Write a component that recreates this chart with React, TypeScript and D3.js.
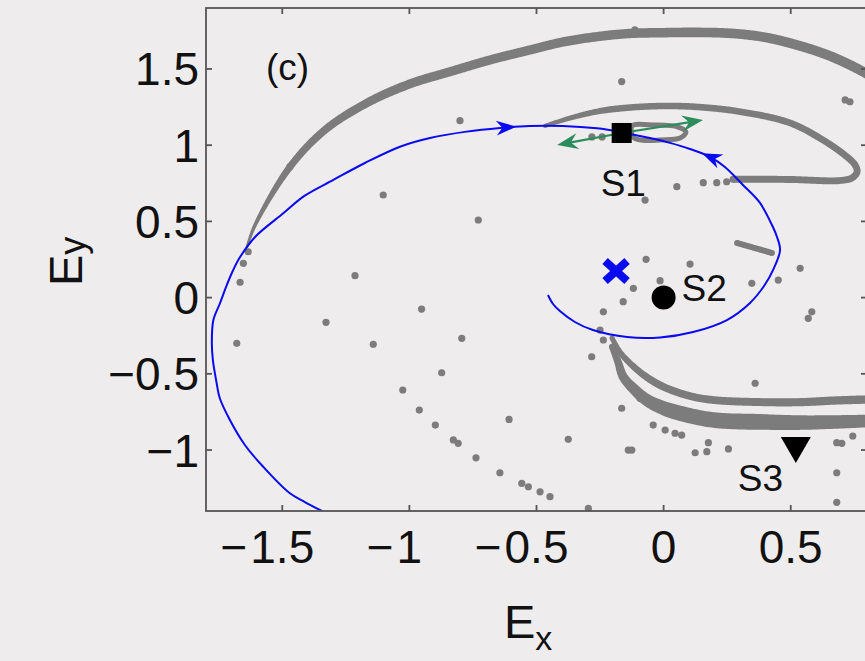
import React, { useEffect, useRef } from 'react';
import * as d3 from 'd3';

type P = [number, number];

const WIDTH = 865;
const HEIGHT = 661;
const BOX = { left: 206, top: 8, right: 867, bottom: 511 };
const FONT = '"Liberation Sans", Arial, Helvetica, sans-serif';
const BG = '#efeced';
const GRAY = '#7c7c7c';
const BLUE = '#0a0aee';
const GREEN = '#2b8c5c';

const xDomain: P = [-1.8, 0.8];
const yDomain: P = [-1.4, 1.9];
const xTickValues = [-1.5, -1, -0.5, 0, 0.5];
const xTickLabels = ['−1.5', '−1', '−0.5', '0', '0.5'];
const yTickValues = [-1, -0.5, 0, 0.5, 1, 1.5];
const yTickLabels = ['−1', '−0.5', '0', '0.5', '1', '1.5'];

// Unstable manifold of S1, outer branch
const outerBranch: P[] = [
  [-1.639, 0.332], [-1.607, 0.476], [-1.47, 0.857], [-1.332, 1.1], [-1.167, 1.277],
  [-0.998, 1.402], [-0.84, 1.482], [-0.683, 1.559], [-0.525, 1.625], [-0.396, 1.677],
  [-0.262, 1.712], [-0.132, 1.733], [-0.002, 1.738], [0.131, 1.74], [0.261, 1.734],
  [0.391, 1.71], [0.525, 1.657], [0.655, 1.585], [0.785, 1.482], [0.891, 1.375],
];

// Unstable manifold of S1, inner fold
const innerBranch: P[] = [
  [-0.467, 1.126], [-0.368, 1.178], [-0.25, 1.224], [-0.132, 1.247], [-0.002, 1.257],
  [0.131, 1.251], [0.301, 1.22], [0.497, 1.146], [0.627, 1.034], [0.72, 0.925],
  [0.753, 0.87], [0.761, 0.824], [0.741, 0.785], [0.694, 0.768], [0.497, 0.775],
  [0.301, 0.777], [0.273, 0.777],
];

// Small closed orbit around S1
const saddleLoop: P[] = [
  [-0.124, 1.126], [-0.034, 1.132], [0.057, 1.119], [0.088, 1.086],
  [0.065, 1.047], [-0.014, 1.034], [-0.073, 1.031], [-0.118, 1.05],
];

// Lower branches leaving the region below S2
const lowerBranchA: P[] = [
  [-0.203, -0.265], [-0.172, -0.357], [-0.132, -0.431], [-0.073, -0.514], [-0.001, -0.585],
  [0.104, -0.646], [0.196, -0.672], [0.392, -0.686], [0.538, -0.686], [0.675, -0.675],
  [0.793, -0.669], [0.891, -0.665],
];
const lowerBranchB: P[] = [
  [-0.203, -0.322], [-0.179, -0.423], [-0.159, -0.519], [-0.113, -0.606], [-0.066, -0.672],
  [-0.002, -0.724], [0.065, -0.759], [0.196, -0.803], [0.392, -0.816], [0.538, -0.82],
  [0.675, -0.816], [0.793, -0.81], [0.891, -0.803],
];

// Short dense run of iterates right of S2
const shortRun: P[] = [[0.289, 0.358], [0.359, 0.325], [0.426, 0.293]];

// Isolated iterates
const scatterPoints: P[] = [
  [-0.801, 1.161], [-1.103, 0.673], [-0.729, 0.509], [-0.165, 1.417], [-0.113, 1.756],
  [0.733, 1.285], [0.714, 1.297], [-1.47, 0.859], [0.248, 0.76], [0.209, 0.754],
  [0.156, 0.754], [0.052, 0.728], [-0.073, 0.64], [-1.634, 0.301], [-1.653, 0.225],
  [-1.666, 0.1], [-1.679, -0.3], [-1.214, 0.144], [-0.952, -0.075], [-1.328, -0.162],
  [-1.142, -0.306], [-0.794, -0.267], [-0.873, -0.493], [-1.026, -0.606], [-0.961, -0.738],
  [-0.898, -0.836], [-0.827, -0.934], [-0.808, -0.956], [-0.738, -1.051], [-0.644, -1.149],
  [-0.558, -1.219], [-0.532, -1.241], [-0.608, -0.799], [-0.486, -1.274], [-0.447, -1.306],
  [-0.069, 0.251], [0.104, 0.22], [-0.014, 0.111], [-0.119, 0.061], [-0.159, -0.027],
  [-0.237, -0.093], [-0.25, -0.213], [-0.237, -0.278], [-0.283, -0.388], [0.347, 0.094],
  [0.537, 0.192], [0.451, 0.115], [0.583, -0.093], [0.569, -0.136], [0.36, -0.562],
  [-0.165, -0.726], [-0.093, -0.661], [-0.041, -0.836], [0.006, -0.869], [0.045, -0.89],
  [0.071, -0.902], [-0.375, -0.93], [-0.139, -1.0], [-0.125, -1.0], [0.124, -1.018],
  [0.17, -1.011], [0.176, -0.952], [0.255, -0.993], [0.681, -0.952], [0.701, -0.956],
  [0.744, -0.908], [0.681, -1.149], [0.681, -1.343], [-0.296, -1.383], [-0.282, 1.054],
  [-0.242, 1.054],
];

// Stable manifold of S1: outer and inner branches, both ordered toward S1
const stableOuter: P[] = [
  [-1.312, -1.427], [-1.411, -1.341], [-1.47, -1.284], [-1.575, -1.11], [-1.647, -0.967],
  [-1.706, -0.803], [-1.746, -0.659], [-1.758, -0.562], [-1.773, -0.409], [-1.777, -0.298],
  [-1.771, -0.147], [-1.745, -0.037], [-1.718, 0.083], [-1.693, 0.181], [-1.666, 0.266],
  [-1.607, 0.398], [-1.496, 0.553], [-1.413, 0.667], [-1.299, 0.772], [-1.175, 0.883],
  [-1.037, 0.99], [-0.919, 1.047], [-0.775, 1.089], [-0.643, 1.113], [-0.526, 1.126],
  [-0.396, 1.126], [-0.262, 1.111], [-0.164, 1.087],
];
const stableInner: P[] = [
  [-0.455, 0.017], [-0.435, -0.042], [-0.408, -0.088], [-0.349, -0.16], [-0.278, -0.213],
  [-0.144, -0.259], [-0.014, -0.262], [0.116, -0.226], [0.249, -0.147], [0.34, -0.035],
  [0.395, 0.076], [0.434, 0.194], [0.458, 0.312], [0.446, 0.398], [0.43, 0.463],
  [0.379, 0.621], [0.312, 0.739], [0.241, 0.857], [0.182, 0.923], [0.104, 0.975],
  [0.025, 1.015], [-0.054, 1.047], [-0.113, 1.067], [-0.164, 1.081],
];
const flowArrowTips: P[] = [[-0.58, 1.12], [0.15, 0.94]];

// Unstable eigendirections at S1
const eigenTips: P[] = [[0.155, 1.165], [-0.419, 1.001]];

// Fixed points and initial condition
const S1: P = [-0.165, 1.08];
const S2: P = [0, 0];
const S3: P = [0.52, -1.0];
const startPoint: P = [-0.187, 0.175];
const panelTag = '(c)';

export default function App() {
  const ref = useRef<SVGSVGElement>(null);

  useEffect(() => {
    const svg = d3.select(ref.current);
    svg.selectAll('*').remove();

    const x = d3.scaleLinear().domain(xDomain).range([BOX.left, BOX.right]);
    const y = d3.scaleLinear().domain(yDomain).range([BOX.bottom, BOX.top]);

    svg.append('rect').attr('width', WIDTH).attr('height', HEIGHT).attr('fill', BG);

    svg.append('defs').append('clipPath').attr('id', 'plot-area')
      .append('rect')
      .attr('x', BOX.left).attr('y', BOX.top)
      .attr('width', BOX.right - BOX.left).attr('height', BOX.bottom - BOX.top);

    const plot = svg.append('g').attr('clip-path', 'url(#plot-area)');

    const smooth = d3.line<P>().x(d => x(d[0])).y(d => y(d[1])).curve(d3.curveCatmullRom.alpha(0.5));
    const smoothClosed = d3.line<P>().x(d => x(d[0])).y(d => y(d[1])).curve(d3.curveCatmullRomClosed.alpha(0.5));

    // sample a smooth curve in pixel space
    const sampleCurve = (pts: P[], step = 1.5): P[] => {
      const tmp = svg.append('path').attr('d', smooth(pts)).attr('fill', 'none');
      const node = tmp.node() as SVGPathElement;
      const len = node.getTotalLength();
      const n = Math.max(2, Math.ceil(len / step));
      const out: P[] = d3.range(n + 1).map(i => {
        const p = node.getPointAtLength((len * i) / n);
        return [p.x, p.y] as P;
      });
      tmp.remove();
      return out;
    };

    // filled band with a width profile given as [t, width] stops
    const band = (pts: P[], stops: P[]) => {
      const s = sampleCurve(pts);
      const n = s.length - 1;
      const wScale = d3.scaleLinear().domain(stops.map(d => d[0])).range(stops.map(d => d[1])).clamp(true);
      const left: P[] = [];
      const right: P[] = [];
      s.forEach((p, i) => {
        const a = s[Math.max(0, i - 1)];
        const b = s[Math.min(n, i + 1)];
        const dx = b[0] - a[0];
        const dy = b[1] - a[1];
        const L = Math.hypot(dx, dy) || 1;
        const nx = -dy / L;
        const ny = dx / L;
        const w = wScale(i / n) / 2;
        left.push([p[0] + nx * w, p[1] + ny * w]);
        right.push([p[0] - nx * w, p[1] - ny * w]);
      });
      const ring = left.concat(right.reverse());
      plot.append('path')
        .attr('d', 'M' + ring.map(p => `${p[0].toFixed(2)},${p[1].toFixed(2)}`).join('L') + 'Z')
        .attr('fill', GRAY);
      plot.append('circle').attr('cx', s[0][0]).attr('cy', s[0][1]).attr('r', wScale(0) / 2).attr('fill', GRAY);
      plot.append('circle').attr('cx', s[n][0]).attr('cy', s[n][1]).attr('r', wScale(1) / 2).attr('fill', GRAY);
    };

    band(outerBranch, [[0, 2.5], [0.12, 7], [0.3, 9], [1, 10]]);
    band(innerBranch, [[0, 4], [0.15, 6.5], [1, 7]]);
    band(lowerBranchA, [[0, 5], [0.2, 7.5], [1, 8.5]]);
    band(lowerBranchB, [[0, 6], [0.3, 15], [0.55, 16], [1, 12]]);
    band(shortRun, [[0, 6], [1, 6]]);

    plot.append('path')
      .attr('d', smoothClosed(saddleLoop))
      .attr('fill', 'none').attr('stroke', GRAY).attr('stroke-width', 5);

    plot.append('g').selectAll('circle').data(scatterPoints).join('circle')
      .attr('cx', d => x(d[0])).attr('cy', d => y(d[1])).attr('r', 3.6).attr('fill', GRAY);

    // stable manifold
    [stableOuter, stableInner].forEach(c => {
      plot.append('path').attr('d', smooth(c))
        .attr('fill', 'none').attr('stroke', BLUE).attr('stroke-width', 2);
    });

    const headPath = (len: number, half: number, notch: number) =>
      `M0,0L${-len},${-half}L${-len + notch},0L${-len},${half}Z`;

    // direction arrows along the stable manifold
    [stableOuter, stableInner].forEach((c, k) => {
      const s = sampleCurve(c, 1);
      const tip: P = [x(flowArrowTips[k][0]), y(flowArrowTips[k][1])];
      const idx = d3.minIndex(s, p => Math.hypot(p[0] - tip[0], p[1] - tip[1]));
      const a = s[Math.max(0, idx - 6)];
      const b = s[idx];
      const ang = (Math.atan2(b[1] - a[1], b[0] - a[0]) * 180) / Math.PI;
      svg.append('path')
        .attr('d', headPath(20, 7.5, 6))
        .attr('transform', `translate(${b[0]},${b[1]}) rotate(${ang})`)
        .attr('fill', BLUE);
    });

    // unstable directions
    eigenTips.forEach(t => {
      const x0 = x(S1[0]);
      const y0 = y(S1[1]);
      const x1 = x(t[0]);
      const y1 = y(t[1]);
      const ang = (Math.atan2(y1 - y0, x1 - x0) * 180) / Math.PI;
      const L = Math.hypot(x1 - x0, y1 - y0);
      const g = svg.append('g').attr('transform', `translate(${x0},${y0}) rotate(${ang})`);
      g.append('line').attr('x1', 0).attr('y1', 0).attr('x2', L - 10).attr('y2', 0)
        .attr('stroke', GREEN).attr('stroke-width', 2.2);
      g.append('path').attr('d', headPath(21, 8, 7)).attr('transform', `translate(${L},0)`).attr('fill', GREEN);
    });

    // S1: square
    svg.append('rect')
      .attr('x', x(S1[0]) - 10).attr('y', y(S1[1]) - 10)
      .attr('width', 20).attr('height', 20).attr('fill', '#000');
    // S2: circle
    svg.append('circle').attr('cx', x(S2[0])).attr('cy', y(S2[1])).attr('r', 12).attr('fill', '#000');
    // S3: downward triangle
    svg.append('path')
      .attr('d', 'M-15,-13L15,-13L0,13Z')
      .attr('transform', `translate(${x(S3[0])},${y(S3[1])})`)
      .attr('fill', '#000');
    // initial condition
    const cross = svg.append('g').attr('transform', `translate(${x(startPoint[0])},${y(startPoint[1])})`);
    cross.append('line').attr('x1', -11).attr('y1', -10).attr('x2', 11).attr('y2', 10)
      .attr('stroke', BLUE).attr('stroke-width', 8);
    cross.append('line').attr('x1', -11).attr('y1', 10).attr('x2', 11).attr('y2', -10)
      .attr('stroke', BLUE).attr('stroke-width', 8);

    // point labels
    const label = (txt: string, px: number, py: number, size: number) =>
      svg.append('text').attr('x', px).attr('y', py).attr('font-family', FONT)
        .attr('font-size', size).attr('fill', '#111').text(txt);
    label('S1', x(S1[0]) - 21, y(S1[1]) + 63, 37);
    label('S2', x(S2[0]) + 18, y(S2[1]) + 3, 37);
    label('S3', x(S3[0]) - 58, y(S3[1]) + 41, 37);
    label(panelTag, 266, 80, 37);

    // axes box
    const axis = svg.append('g').attr('stroke', '#555').attr('stroke-width', 1.8).attr('fill', 'none');
    axis.append('rect')
      .attr('x', BOX.left).attr('y', BOX.top)
      .attr('width', BOX.right - BOX.left).attr('height', BOX.bottom - BOX.top);
    const tl = 6;
    xTickValues.forEach(v => {
      axis.append('line').attr('x1', x(v)).attr('x2', x(v)).attr('y1', BOX.bottom).attr('y2', BOX.bottom - tl);
      axis.append('line').attr('x1', x(v)).attr('x2', x(v)).attr('y1', BOX.top).attr('y2', BOX.top + tl);
    });
    yTickValues.forEach(v => {
      axis.append('line').attr('x1', BOX.left).attr('x2', BOX.left + tl).attr('y1', y(v)).attr('y2', y(v));
      axis.append('line').attr('x1', BOX.right).attr('x2', BOX.right - tl).attr('y1', y(v)).attr('y2', y(v));
    });

    const TICK_FS = 46;
    xTickValues.forEach((v, i) => {
      const lab = xTickLabels[i];
      const neg = lab.startsWith('−');
      const body = neg ? lab.slice(1) : lab;
      const t = svg.append('text').attr('x', x(v)).attr('y', BOX.bottom + 52)
        .attr('text-anchor', 'middle').attr('font-family', FONT).attr('font-size', TICK_FS)
        .attr('fill', '#111').text(body);
      if (neg) {
        const w = (t.node() as SVGTextElement).getComputedTextLength();
        svg.append('text').attr('x', x(v) - w / 2 - 3).attr('y', BOX.bottom + 52)
          .attr('text-anchor', 'end').attr('font-family', FONT).attr('font-size', TICK_FS)
          .attr('fill', '#111').text('−');
      }
    });
    yTickValues.forEach((v, i) => {
      svg.append('text').attr('x', BOX.left - 7).attr('y', y(v) + 16.5)
        .attr('text-anchor', 'end').attr('font-family', FONT).attr('font-size', TICK_FS)
        .attr('fill', '#111').text(yTickLabels[i]);
    });

    // axis titles
    const xt = svg.append('text').attr('x', 504).attr('y', 638)
      .attr('font-family', FONT).attr('font-size', 47).attr('fill', '#111');
    xt.append('tspan').text('E');
    xt.append('tspan').attr('font-size', 34).attr('dy', 12).text('x');

    const yt = svg.append('text').attr('transform', 'translate(82,286) rotate(-90)')
      .attr('font-family', FONT).attr('font-size', 47).attr('fill', '#111');
    yt.append('tspan').text('E');
    yt.append('tspan').attr('font-size', 36).attr('dy', 3).text('y');
  }, []);

  return (
    <div style={{ position: 'absolute', left: 0, top: 0, width: WIDTH, height: HEIGHT }}>
      <svg ref={ref} width={WIDTH} height={HEIGHT} style={{ display: 'block' }} />
    </div>
  );
}
